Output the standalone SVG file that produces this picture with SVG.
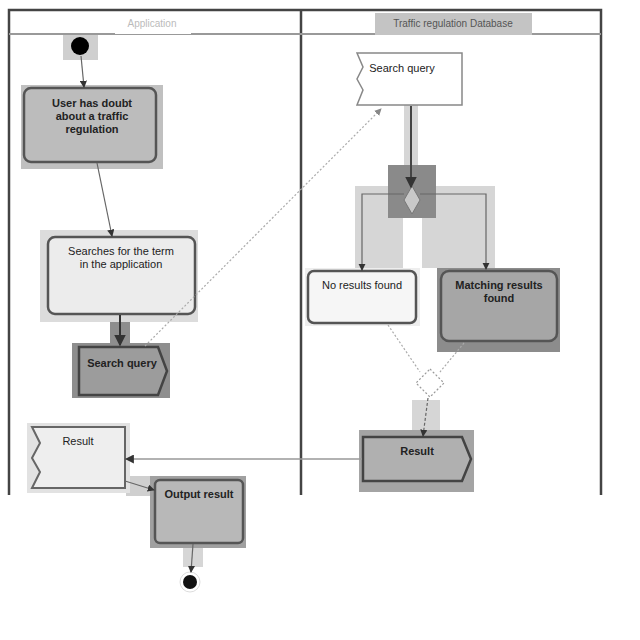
<svg xmlns="http://www.w3.org/2000/svg" width="640" height="640" viewBox="0 0 640 640">
  <defs>
    <marker id="arrow" viewBox="0 0 8 8" refX="7" refY="4" markerWidth="6" markerHeight="6" orient="auto-start-reverse">
      <path d="M0,0 L8,4 L0,8 z" fill="#333"/>
    </marker>
    <marker id="arrowLight" viewBox="0 0 8 8" refX="7" refY="4" markerWidth="6" markerHeight="6" orient="auto-start-reverse">
      <path d="M0,0 L8,4 L0,8 z" fill="#888"/>
    </marker>
  </defs>
  <style>
    .lane { fill: none; stroke: #444; stroke-width: 2.5; }
    .hdr { stroke: #999; stroke-width: 2; }
    .act { stroke: #555; stroke-width: 2.5; }
    .txt { font-family: "Liberation Sans", Arial, sans-serif; font-size: 11px; fill: #222; text-anchor: middle; }
    .bold { font-weight: bold; }
    .flow { fill: none; stroke: #666; stroke-width: 1.2; }
    .faint { fill: none; stroke: #aaa; stroke-width: 1.2; stroke-dasharray: 2 2; }
  </style>

  <rect width="640" height="640" fill="#fff"/>

  <!-- swimlanes -->
  <g id="lanes">
    <path class="lane" d="M9,495 V10 H601 V495"/>
    <line class="lane" x1="301" y1="10" x2="301" y2="495"/>
    <line class="hdr" x1="9" y1="34" x2="601" y2="34"/>
    <rect x="115" y="12" width="76" height="22" fill="#fff"/>
    <text class="txt" x="152" y="27" style="fill:#bbb;font-size:10px">Application</text>
    <rect x="375" y="13" width="157" height="22" fill="#c4c4c4"/>
    <text class="txt" x="453" y="27" style="fill:#555;font-size:10px">Traffic regulation Database</text>
  </g>

  <!-- shading behind the flow lines -->
  <g id="connector-shading">
    <rect x="110" y="315" width="20" height="30" fill="#8e8e8e"/>
    <rect x="404" y="105" width="14" height="62" fill="#d6d6d6"/>
    <rect x="355" y="186" width="140" height="16" fill="#d6d6d6"/>
    <rect x="355" y="186" width="48" height="82" fill="#d6d6d6"/>
    <rect x="422" y="186" width="73" height="82" fill="#d6d6d6"/>
    <rect x="412" y="400" width="28" height="32" fill="#d6d6d6"/>
    <rect x="126" y="476" width="30" height="20" fill="#cfcfcf"/>
    <rect x="183" y="543" width="20" height="24" fill="#d6d6d6"/>
  </g>

  <!-- start node -->
  <g id="start">
    <rect x="63" y="35" width="35" height="25" fill="#cfcfcf"/>
    <circle cx="80" cy="46" r="9" fill="#000"/>
  </g>

  <!-- User has doubt -->
  <g id="doubt">
    <rect x="21" y="85" width="142" height="84" fill="#c0c0c0"/>
    <rect class="act" x="24" y="88" width="132" height="74" rx="7" fill="#bcbcbc"/>
    <text class="txt bold" x="92" y="107">User has doubt</text>
    <text class="txt bold" x="92" y="120">about a traffic</text>
    <text class="txt bold" x="92" y="133">regulation</text>
  </g>

  <!-- Searches for the term -->
  <g id="searches">
    <rect x="40" y="230" width="158" height="92" fill="#dcdcdc"/>
    <rect class="act" x="48" y="237" width="147" height="77" rx="7" fill="#ececec" stroke="#777"/>
    <text class="txt" x="121" y="255">Searches for the term</text>
    <text class="txt" x="121" y="268">in the application</text>
  </g>

  <!-- Search query output pin -->
  <g id="query-out">
    <rect x="72" y="343" width="98" height="55" fill="#8e8e8e"/>
    <path d="M79,347 H158 L167,371 L158,395 H79 z" fill="#9c9c9c" stroke="#444" stroke-width="2.5"/>
    <text class="txt bold" x="122" y="367">Search query</text>
  </g>

  <!-- Search query input pin -->
  <g id="query-in">
    <path d="M357,53 H462 V105 H357 L363,90 L357,79 L363,67 z" fill="#fff" stroke="#888" stroke-width="1.5"/>
    <text class="txt" x="402" y="72">Search query</text>
  </g>

  <!-- decision -->
  <g id="decision">
    <rect x="388" y="165" width="48" height="53" fill="#8a8a8a"/>
    <path d="M412,186 L420,200 L412,214 L404,200 z" fill="#c8c8c8" stroke="#777" stroke-width="1"/>
  </g>

  <!-- No results found -->
  <g id="no-results">
    <rect x="305" y="268" width="115" height="58" fill="#eeeeee"/>
    <rect class="act" x="308" y="271" width="108" height="52" rx="6" fill="#f6f6f6" stroke="#999" stroke-width="1.5"/>
    <text class="txt" x="362" y="289">No results found</text>
  </g>

  <!-- Matching results found -->
  <g id="matching">
    <rect x="437" y="268" width="123" height="84" fill="#8c8c8c"/>
    <rect class="act" x="441" y="271" width="116" height="70" rx="8" fill="#a6a6a6" stroke="#333"/>
    <text class="txt bold" x="499" y="289">Matching results</text>
    <text class="txt bold" x="499" y="302">found</text>
  </g>

  <!-- merge -->
  <g id="merge">
    <path d="M430,369 L444,383 L430,397 L416,383 z" fill="#fff" stroke="#999" stroke-width="1.2" stroke-dasharray="2 2"/>
  </g>

  <!-- Result output pin (database lane) -->
  <g id="result-out">
    <rect x="359" y="430" width="115" height="62" fill="#a4a4a4"/>
    <path d="M363,437 H462 L471,459 L462,481 H363 z" fill="#b0b0b0" stroke="#444" stroke-width="2.5"/>
    <text class="txt bold" x="417" y="455">Result</text>
  </g>

  <!-- Result input pin (application lane) -->
  <g id="result-in">
    <rect x="27" y="423" width="103" height="70" fill="#e2e2e2"/>
    <path d="M32,427 H125 V488 H32 L40,472 L32,458 L40,443 z" fill="#eeeeee" stroke="#666" stroke-width="2"/>
    <text class="txt" x="78" y="445">Result</text>
  </g>

  <!-- Output result -->
  <g id="output">
    <rect x="150" y="476" width="96" height="72" fill="#a0a0a0"/>
    <rect class="act" x="155" y="480" width="88" height="63" rx="5" fill="#b8b8b8" stroke="#444"/>
    <text class="txt bold" x="199" y="498">Output result</text>
  </g>

  <!-- final node -->
  <g id="end">
    <circle cx="190" cy="582" r="10" fill="#fff" stroke="#ddd" stroke-width="1"/>
    <circle cx="190" cy="582" r="7" fill="#111"/>
  </g>

  <!-- connectors -->
  <g id="connectors">
    <line class="flow" x1="81" y1="56" x2="84" y2="87" marker-end="url(#arrow)"/>
    <line class="flow" x1="97" y1="163" x2="112" y2="236" marker-end="url(#arrow)"/>
    <line x1="120" y1="315" x2="120" y2="345" stroke="#333" stroke-width="2" marker-end="url(#arrow)"/>
    <line class="faint" x1="145" y1="346" x2="381" y2="109" marker-end="url(#arrowLight)"/>
    <line x1="411" y1="106" x2="411" y2="187" stroke="#444" stroke-width="2" marker-end="url(#arrow)"/>
    <path class="flow" d="M404,194 H362 V270" marker-end="url(#arrow)"/>
    <path class="flow" d="M420,194 H486 V269" marker-end="url(#arrow)"/>
    <line class="faint" x1="388" y1="325" x2="420" y2="372"/>
    <line class="faint" x1="464" y1="343" x2="440" y2="372"/>
    <line class="flow" x1="428" y1="398" x2="423" y2="436" stroke-dasharray="3 2" marker-end="url(#arrow)"/>
    <line x1="362" y1="459" x2="126" y2="459" stroke="#999" stroke-width="1.5" marker-end="url(#arrow)"/>
    <line class="flow" x1="125" y1="481" x2="154" y2="490" marker-end="url(#arrow)"/>
    <line class="flow" x1="193" y1="544" x2="191" y2="572" marker-end="url(#arrow)"/>
  </g>
</svg>
